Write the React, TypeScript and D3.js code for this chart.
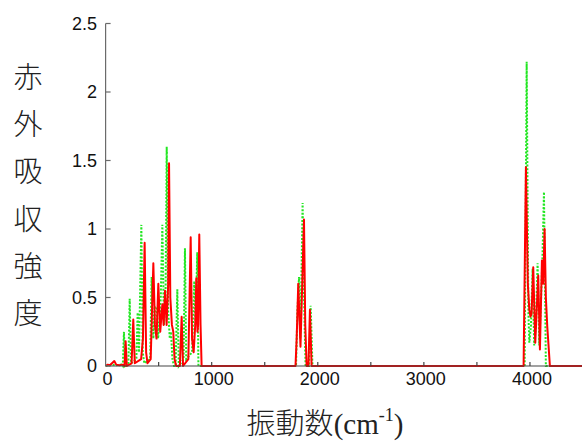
import React from "react";
import * as d3 from "d3";

const width = 582;
const height = 443;
const margin = { top: 23.5, right: 0, bottom: 77, left: 105.6 };

// frequency (cm-1), intensity
const redSeries: [number, number][] = [
  [0, 0], [20, 0.01], [40, 0.005], [60, 0.02], [82, 0.036], [100, 0.01], [130, 0.005], [160, 0.01],
  [178, 0], [189, 0.18], [200, 0],
  [245, 0.02], [261, 0.34], [275, 0.02],
  [335, 0.05], [352, 0.2], [368, 0.9], [382, 0.1], [395, 0.02],
  [425, 0.05], [450, 0.75], [465, 0.3], [480, 0.2], [497, 0.6], [515, 0.25], [535, 0.45],
  [547, 0.3], [560, 0.55], [575, 0.3], [590, 0.6], [598, 1.48], [610, 0.5], [625, 0.3],
  [638, 0.25], [650, 0.05], [665, 0],
  [700, 0], [717, 0.36], [730, 0],
  [780, 0.05], [802, 0.94], [815, 0.2], [830, 0.1], [845, 0.3], [855, 0.64], [866, 0.25],
  [872, 0.3], [883, 0.96], [895, 0.3], [905, 0],
  [1790, 0], [1801, 0.2], [1816, 0.6], [1837, 0.14], [1850, 0.5], [1870, 1.07], [1882, 0.3],
  [1895, 0], [1912, 0], [1926, 0.41], [1942, 0],
  [3940, 0], [3962, 1.45], [3980, 0.6], [3994, 0.41], [4005, 0.36], [4015, 0.38], [4031, 0.72],
  [4050, 0.17], [4078, 0.66], [4094, 0.12], [4113, 0.77], [4125, 0.6], [4138, 1.0], [4150, 0.5],
  [4163, 0.29], [4188, 0], [4500, 0],
];

const greenSeries: [number, number][] = [
  [0, 0], [30, 0.005], [60, 0.01], [100, 0.005], [150, 0.01],
  [162, 0], [173, 0.25], [185, 0],
  [215, 0.02], [227, 0.49], [240, 0.02],
  [290, 0.05], [302, 0.39], [315, 0.1], [337, 1.03], [350, 0.1], [365, 0.02],
  [420, 0.05], [434, 0.65], [450, 0.2], [466, 0.43], [481, 0.43], [495, 0.2], [510, 0.35],
  [520, 0.5], [535, 1.03], [550, 0.3], [565, 0.5], [576, 1.6], [590, 0.4], [605, 0.2],
  [616, 0.25], [630, 0.05], [645, 0],
  [660, 0], [676, 0.56], [690, 0],
  [735, 0.05], [748, 0.86], [760, 0.05],
  [815, 0.1], [836, 0.62], [848, 0.3], [864, 0.83], [875, 0],
  [1795, 0], [1808, 0.4], [1823, 0.65], [1835, 0.2], [1845, 0.6], [1857, 1.19], [1870, 0.5],
  [1885, 0], [1918, 0], [1933, 0.44], [1950, 0],
  [3950, 0], [3969, 2.22], [3985, 0.4], [3994, 0.17], [4010, 0.3], [4025, 0.71], [4040, 0.15],
  [4055, 0.3], [4072, 0.75], [4088, 0.15], [4105, 0.5], [4118, 0.8], [4132, 1.27], [4150, 0],
  [4500, 0],
];

const xTickLabels = [0, 1000, 2000, 3000, 4000];
const xMinorTicks = [500, 1000, 1500, 2000, 2500, 3000, 3500, 4000];
const yTickLabels = [0, 0.5, 1, 1.5, 2, 2.5];
const yLabelChars = ["赤", "外", "吸", "収", "強", "度"];

const App = () => {
  const xScale = d3.scaleLinear().domain([0, 4500]).range([margin.left, 583]);
  const yScale = d3.scaleLinear().domain([0, 2.5]).range([height - margin.bottom, margin.top]);

  const line = d3
    .line<[number, number]>()
    .x(d => xScale(d[0]))
    .y(d => yScale(d[1]));

  const axisColor = "#6b6b6b";
  const y0 = yScale(0);

  return (
    <svg
      width={width}
      height={height}
      style={{ position: "absolute", left: 0, top: 0, background: "#fff" }}
    >
      <path d={line(greenSeries) || ""} fill="none" stroke="#22e622" strokeWidth={2} strokeDasharray="2,1.6" />
      <path d={line(redSeries) || ""} fill="none" stroke="#ff0000" strokeWidth={2} strokeLinejoin="round" />

      {/* axes */}
      <line x1={margin.left} x2={margin.left} y1={yScale(2.5)} y2={y0} stroke={axisColor} strokeWidth={1.2} />
      <line x1={margin.left} x2={width} y1={y0} y2={y0} stroke="#444" strokeWidth={1.2} />

      {yTickLabels.map(t => (
        <g key={"y" + t}>
          <line x1={margin.left} x2={margin.left + 5} y1={yScale(t)} y2={yScale(t)} stroke={axisColor} strokeWidth={1.2} />
          <text
            x={97}
            y={yScale(t)}
            dy="0.36em"
            textAnchor="end"
            fontFamily="Liberation Sans, Arial, sans-serif"
            fontSize={18}
            fill="#111"
          >
            {t}
          </text>
        </g>
      ))}

      {xMinorTicks.map(t => (
        <line key={"xm" + t} x1={xScale(t)} x2={xScale(t)} y1={y0} y2={y0 - 4} stroke="#444" strokeWidth={1.2} />
      ))}
      {xTickLabels.map(t => (
        <text
          key={"x" + t}
          x={xScale(t) + 2}
          y={385}
          textAnchor="middle"
          fontFamily="Liberation Sans, Arial, sans-serif"
          fontSize={18}
          fill="#111"
        >
          {t}
        </text>
      ))}

      {yLabelChars.map((c, i) => (
        <text
          key={c}
          x={28}
          y={77 + i * 47.2}
          dy="0.38em"
          textAnchor="middle"
          fontFamily="Noto Sans CJK JP, sans-serif"
          fontWeight={300}
          fontSize={29}
          fill="#222"
        >
          {c}
        </text>
      ))}

      <text
        x={325}
        y={434}
        textAnchor="middle"
        fontFamily="Liberation Serif, Noto Sans CJK JP, serif"
        fontSize={29}
        fill="#222"
      >
        <tspan fontFamily="Noto Sans CJK JP, sans-serif" fontWeight={300}>振動数</tspan>
        <tspan>(cm</tspan>
        <tspan fontSize={18} dy={-13}>-1</tspan>
        <tspan dy={13}>)</tspan>
      </text>
    </svg>
  );
};

export default App;
